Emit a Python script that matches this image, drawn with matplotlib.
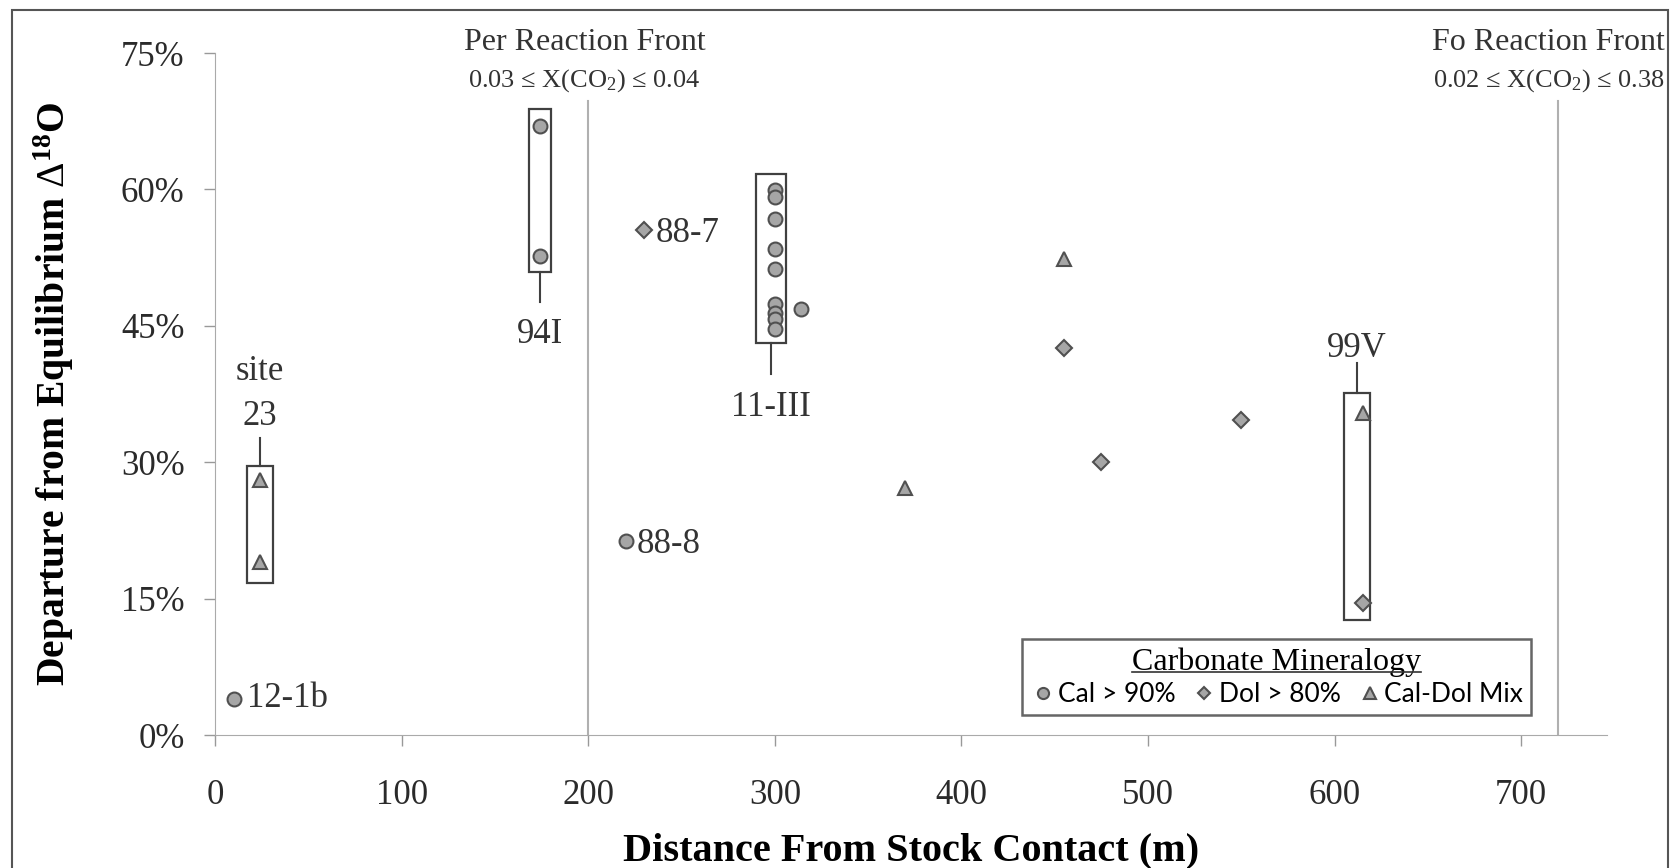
import matplotlib
matplotlib.use('Agg')
import matplotlib.pyplot as plt
from matplotlib.patches import Rectangle
from matplotlib.lines import Line2D
from matplotlib.ticker import PercentFormatter

plt.rcParams['font.family'] = ['Liberation Serif', 'DejaVu Serif']
plt.rcParams['mathtext.fontset'] = 'custom'
plt.rcParams['mathtext.rm'] = 'Liberation Serif'
plt.rcParams['mathtext.it'] = 'Liberation Serif:italic'
plt.rcParams['mathtext.bf'] = 'Liberation Serif:bold'

# data (distance m, departure fraction)
cal_x = [10, 174, 174, 220, 300, 300, 300, 300, 300, 300, 300, 300, 300, 314]
cal_y = [0.040, 0.670, 0.527, 0.213, 0.599, 0.592, 0.568, 0.535, 0.512, 0.474, 0.464, 0.457, 0.447, 0.469]
dol_x = [230, 455, 475, 550, 615]
dol_y = [0.555, 0.426, 0.300, 0.346, 0.145]
mix_x = [24, 24, 370, 455, 615]
mix_y = [0.280, 0.190, 0.272, 0.524, 0.354]

# point labels: text, x, y
labels = [('12-1b', 17, 0.040), ('88-8', 226, 0.210), ('88-7', 236, 0.552)]
# group boxes: x0, x1, y0, y1, leader end y, label, label y
groups = [
    (17, 31, 0.167, 0.296, 0.327, 'site\n23', 0.375),
    (168, 180, 0.509, 0.689, 0.476, '94I', 0.440),
    (290, 306, 0.431, 0.617, 0.397, '11-III', 0.360),
    (605, 619, 0.127, 0.376, 0.409, '99V', 0.425),
]
# reaction fronts: line x, title, subtitle, text x, alignment
fronts = [(200, 'Per Reaction Front', r'0.03 ≤ X(CO$_2$) ≤ 0.04', 198, 'center'),
          (720, 'Fo Reaction Front', r'0.02 ≤ X(CO$_2$) ≤ 0.38', 777, 'right')]

fill = '#a6a6a6'
edge = '#505050'

fig = plt.figure(figsize=(16.71, 8.68), dpi=100)
ax = fig.add_axes([0.1287, 0.1532, 0.8330, 0.7857])

ax.plot(cal_x, cal_y, 'o', ms=10, mfc=fill, mec=edge, mew=1.5, label='Cal > 90%', zorder=3)
ax.plot(dol_x, dol_y, 'D', ms=8, mfc=fill, mec=edge, mew=1.5, label='Dol > 80%', zorder=3)
ax.plot(mix_x, mix_y, '^', ms=10, mfc=fill, mec=edge, mew=1.5, label='Cal-Dol Mix', zorder=3)

ax.set_xlim(0, 746)
ax.set_ylim(0, 0.75)
ax.set_xticks(range(0, 701, 100))
ax.set_yticks([0, 0.15, 0.30, 0.45, 0.60, 0.75])
ax.yaxis.set_major_formatter(PercentFormatter(1.0, decimals=0))
ax.tick_params(labelsize=25, colors='#999999', labelcolor='#2a2a2a', length=8, width=1)
ax.tick_params(axis='x', pad=24)
ax.tick_params(axis='y', pad=14)
for s in ['top', 'right']:
    ax.spines[s].set_visible(False)
for s in ['left', 'bottom']:
    ax.spines[s].set_color('#aaaaaa')

for x, t1, t2, tx, ha in fronts:
    ax.plot([x, x], [0, 0.697], color='#b0b0b0', lw=1.5, zorder=1)
    ax.text(tx, 0.762, t1, ha=ha, va='center', fontsize=23, color='#333333', clip_on=False)
    ax.text(tx, 0.720, t2, ha=ha, va='center', fontsize=19, color='#333333', clip_on=False)

for t, x, y in labels:
    ax.text(x, y, t, ha='left', va='center', fontsize=25, color='#333333')

for x0, x1, y0, y1, ly, t, ty in groups:
    ax.add_patch(Rectangle((x0, y0), x1 - x0, y1 - y0, fill=False, ec='#404040', lw=1.6, zorder=2))
    xm = (x0 + x1) / 2
    ystart = y1 if ly > y1 else y0
    ax.plot([xm, xm], [ystart, ly], color='#404040', lw=1.5)
    ax.text(xm, ty, t, ha='center', va='center', fontsize=25, color='#333333', linespacing=1.5)

ax.set_xlabel('Distance From Stock Contact (m)', fontsize=29, fontweight='bold', labelpad=14)
ax.set_ylabel(r'Departure from Equilibrium $\Delta^{\mathbf{18}}$O', fontsize=28.5, fontweight='bold', labelpad=32)

leg = ax.legend(loc='lower right', bbox_to_anchor=(0.955, 0.010), ncol=3, frameon=True, fancybox=False,
                title='Carbonate Mineralogy', handletextpad=0.05, columnspacing=0.6, handlelength=1.0,
                markerscale=0.8, borderpad=0.3, labelspacing=0.2,
                prop={'family': 'Lato', 'size': 19}, title_fontproperties={'family': 'Liberation Serif', 'size': 23})
leg.get_frame().set_edgecolor('#404040')
leg.get_frame().set_linewidth(1.8)

fig.canvas.draw()
tb = leg.get_title().get_window_extent().transformed(fig.transFigure.inverted())
fig.add_artist(Line2D([tb.x0, tb.x1], [tb.y0 + 0.005, tb.y0 + 0.005], color='#333333', lw=1.2,
                      transform=fig.transFigure))

fig.add_artist(Rectangle((0.0072, -0.02), 0.9908, 1.0085, transform=fig.transFigure, fill=False,
                         ec='#555555', lw=1.5))

fig.savefig('out.png', dpi=100)
